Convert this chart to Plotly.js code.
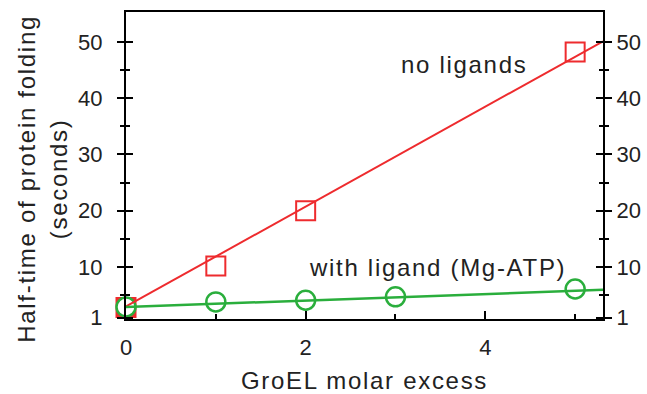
<!DOCTYPE html>
<html>
<head>
<meta charset="utf-8">
<script src="https://cdn.plot.ly/plotly-3.0.1.min.js"></script>
<style>
  html, body { margin: 0; padding: 0; background: #fff; }
  #chart { width: 647px; height: 394px; }
  .annotation-text, .xtitle, .ytitle { letter-spacing: 1.7px; }
</style>
</head>
<body>
<div id="chart"></div>
<script>
// ---- data ----
const excessNoLig = [0, 1, 2, 5];
const halfTimeNoLig = [2.8, 10.2, 20.0, 48.2];
const excessLig = [0, 1, 2, 3, 5];
const halfTimeLig = [2.9, 3.8, 4.1, 4.7, 6.1];
const fitX = [0, 5.31];
const fitNoLig = [3.0, 50.1];
const fitLig = [2.9, 5.95];
const xTickVals = [0, 2, 4];
const xMinorVals = [1, 3, 5];
const yTickVals = [1, 10, 20, 30, 40, 50];
const yTickText = ['1', '10', '20', '30', '40', '50'];
const yMinorVals = [5, 15, 25, 35, 45];
const labelNoLig = 'no ligands';
const labelLig = 'with ligand (Mg-ATP)';
const yTitle = 'Half-time of protein folding<br>(seconds)';
const xTitle = 'GroEL molar excess';

const RED = '#ee2b2e';
const GREEN = '#2aae3c';
const FONT = 'Liberation Sans, Arial, Helvetica, sans-serif';
const yRange = [0.77, 55.3];
const xRange = [0, 5.31];

// first square (at zero excess) is drawn filled, the rest open
const squareFill = excessNoLig.map((v, i) => i === 0 ? RED : 'rgba(0,0,0,0)');

const traces = [
  { x: excessNoLig, y: halfTimeNoLig, mode: 'markers', cliponaxis: false,
    marker: { symbol: 'square', size: 19, color: squareFill, line: { color: RED, width: 2 } }, showlegend: false },
  { x: excessLig, y: halfTimeLig, mode: 'markers', cliponaxis: false,
    marker: { symbol: 'circle', size: 19, color: '#fff', line: { color: GREEN, width: 2.5 } }, showlegend: false },
  { x: fitX, y: fitNoLig, mode: 'lines', line: { color: RED, width: 2 }, hoverinfo: 'skip', showlegend: false },
  { x: fitX, y: fitLig, mode: 'lines', line: { color: GREEN, width: 2.5 }, hoverinfo: 'skip', showlegend: false },
  // invisible carriers for the overlay axes
  { x: fitX, y: fitLig, yaxis: 'y2', mode: 'lines', opacity: 0, hoverinfo: 'skip', showlegend: false },
  { x: fitX, y: fitLig, yaxis: 'y3', mode: 'lines', opacity: 0, hoverinfo: 'skip', showlegend: false },
  { x: fitX, y: fitLig, yaxis: 'y4', mode: 'lines', opacity: 0, hoverinfo: 'skip', showlegend: false }
];

const baseY = {
  range: yRange, autorange: false, showgrid: false, zeroline: false,
  tickmode: 'array', tickvals: yTickVals, ticktext: yTickText,
  tickwidth: 2, tickcolor: '#000', ticklen: 7,
  tickfont: { family: FONT, size: 22, color: '#222' },
  fixedrange: true
};

const layout = {
  width: 647, height: 394,
  margin: { l: 126, r: 44, t: 12, b: 75 },
  paper_bgcolor: '#fff', plot_bgcolor: '#fff',
  font: { family: FONT, color: '#222' },
  showlegend: false,
  xaxis: {
    range: xRange, autorange: false, showgrid: false, zeroline: false,
    showline: true, linecolor: '#000', linewidth: 2, mirror: true,
    ticks: 'inside', ticklen: 8, tickwidth: 2, tickcolor: '#000',
    tickmode: 'array', tickvals: xTickVals,
    minor: { tickmode: 'array', tickvals: xMinorVals, ticks: 'inside', ticklen: 5, tickwidth: 2, tickcolor: '#000', showgrid: false },
    ticklabelstandoff: 8,
    tickfont: { family: FONT, size: 22, color: '#222' },
    title: { text: xTitle, font: { family: FONT, size: 24, color: '#222' }, standoff: 14 },
    fixedrange: true
  },
  yaxis: Object.assign({}, baseY, {
    side: 'left', showline: true, linecolor: '#000', linewidth: 2,
    ticks: 'outside', ticklabelstandoff: 10,
    minor: { tickmode: 'array', tickvals: yMinorVals, ticks: 'outside', ticklen: 4, tickwidth: 2, tickcolor: '#000', showgrid: false }
  }),
  yaxis2: Object.assign({}, baseY, {
    overlaying: 'y', side: 'right', showline: true, linecolor: '#000', linewidth: 2,
    ticks: 'outside',
    minor: { tickmode: 'array', tickvals: yMinorVals, ticks: 'outside', ticklen: 4, tickwidth: 2, tickcolor: '#000', showgrid: false }
  }),
  yaxis3: Object.assign({}, baseY, {
    overlaying: 'y', side: 'left', showline: false, showticklabels: false,
    ticks: 'inside',
    minor: { tickmode: 'array', tickvals: yMinorVals, ticks: 'inside', ticklen: 4, tickwidth: 2, tickcolor: '#000', showgrid: false }
  }),
  yaxis4: Object.assign({}, baseY, {
    overlaying: 'y', side: 'right', showline: false, showticklabels: false,
    ticks: 'inside',
    minor: { tickmode: 'array', tickvals: yMinorVals, ticks: 'inside', ticklen: 4, tickwidth: 2, tickcolor: '#000', showgrid: false }
  }),
  annotations: [
    { text: yTitle, x: -0.176, y: 0.457, xref: 'paper', yref: 'paper', textangle: -90,
      showarrow: false, xanchor: 'center', yanchor: 'middle', align: 'center',
      font: { family: FONT, size: 24, color: '#222' } },
    { text: labelNoLig, x: 3.76, y: 45.9, xref: 'x', yref: 'y', showarrow: false,
      xanchor: 'center', yanchor: 'middle', font: { family: FONT, size: 24, color: '#222' } },
    { text: labelLig, x: 3.47, y: 10.0, xref: 'x', yref: 'y', showarrow: false,
      xanchor: 'center', yanchor: 'middle', font: { family: FONT, size: 24, color: '#222' } }
  ]
};

Plotly.newPlot('chart', traces, layout, { staticPlot: true, displayModeBar: false });
</script>
</body>
</html>
